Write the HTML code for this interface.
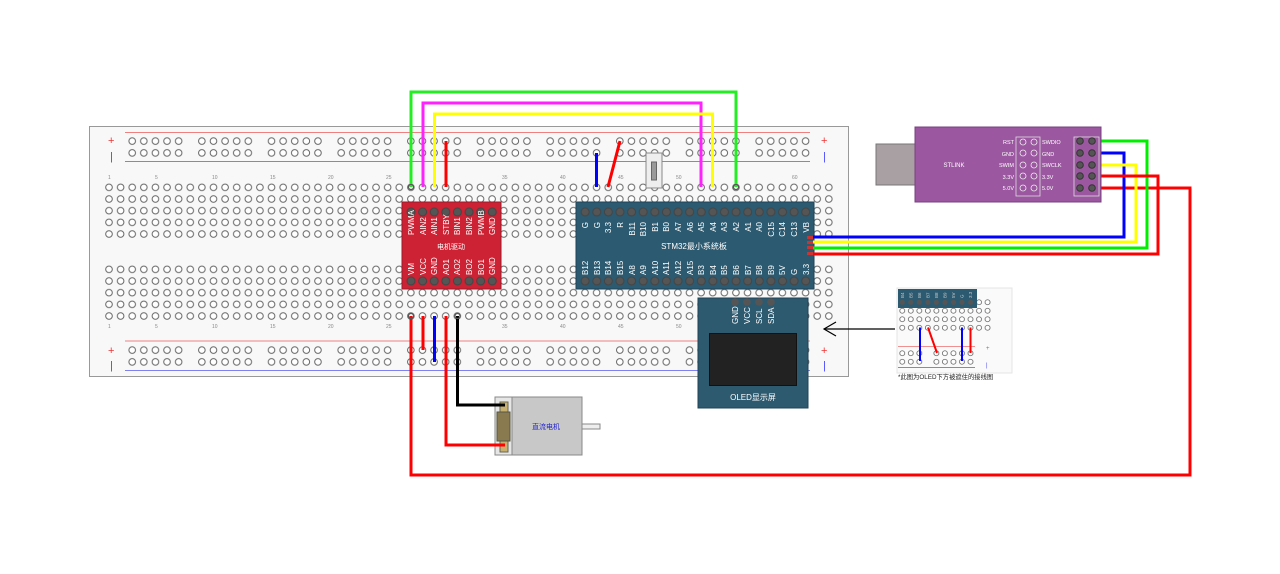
<!DOCTYPE html>
<html><head><meta charset="utf-8"><style>
html,body{margin:0;padding:0;background:#fff;width:1280px;height:574px;overflow:hidden}
svg{display:block}
text{font-family:"Liberation Sans","Noto Sans CJK SC",sans-serif}
</style></head><body>
<svg width="1280" height="574" viewBox="0 0 1280 574" xmlns="http://www.w3.org/2000/svg">
<defs>
<pattern id="hole" patternUnits="userSpaceOnUse" x="103.2" y="181.5" width="11.61" height="11.67">
<circle cx="5.8" cy="5.83" r="3.3" fill="#fff" stroke="#666" stroke-width="1"/></pattern>
<pattern id="hole2" patternUnits="userSpaceOnUse" x="103.2" y="263.5" width="11.61" height="11.67">
<circle cx="5.8" cy="5.83" r="3.3" fill="#fff" stroke="#666" stroke-width="1"/></pattern>
<pattern id="rail" patternUnits="userSpaceOnUse" x="126.4" y="135.2" width="69.66" height="11.8">
<g fill="#fff" stroke="#666" stroke-width="1"><circle cx="5.8" cy="5.9" r="3.3"/><circle cx="17.41" cy="5.9" r="3.3"/><circle cx="29.02" cy="5.9" r="3.3"/><circle cx="40.63" cy="5.9" r="3.3"/><circle cx="52.24" cy="5.9" r="3.3"/></g></pattern>
<pattern id="rail2" patternUnits="userSpaceOnUse" x="126.4" y="344.2" width="69.66" height="11.8">
<g fill="#fff" stroke="#666" stroke-width="1"><circle cx="5.8" cy="5.9" r="3.3"/><circle cx="17.41" cy="5.9" r="3.3"/><circle cx="29.02" cy="5.9" r="3.3"/><circle cx="40.63" cy="5.9" r="3.3"/><circle cx="52.24" cy="5.9" r="3.3"/></g></pattern>
<pattern id="mini" patternUnits="userSpaceOnUse" x="898" y="298" width="8.53" height="8.5">
<circle cx="4.26" cy="4.25" r="2.5" fill="#fff" stroke="#666" stroke-width="0.8"/></pattern>
<pattern id="pinD" patternUnits="userSpaceOnUse" x="405.2" y="206.2" width="11.61" height="69">
<circle cx="5.8" cy="5.8" r="4" fill="#555" stroke="#444"/><circle cx="5.8" cy="74.8" r="4" fill="#555"/></pattern>
</defs>

<!-- breadboard -->
<rect x="89.5" y="126.5" width="759" height="250" fill="#f8f8f8" stroke="#999"/>
<line x1="125" y1="132.5" x2="810" y2="132.5" stroke="#f08080"/>
<line x1="125" y1="161.5" x2="810" y2="161.5" stroke="#8080f0"/>
<line x1="125" y1="341" x2="810" y2="341" stroke="#f08080"/>
<line x1="125" y1="370.5" x2="810" y2="370.5" stroke="#8080f0"/>
<g font-size="11" fill="#e33"><text x="108" y="144">+</text><text x="821" y="144">+</text><text x="108" y="354">+</text><text x="821" y="354">+</text></g>
<g font-size="11" fill="#44f"><text x="110" y="160">|</text><text x="823" y="160">|</text><text x="110" y="369">|</text><text x="823" y="369">|</text></g>
<rect x="103.2" y="181.5" width="731.4" height="58.35" fill="url(#hole)"/>
<rect x="103.2" y="263.5" width="731.4" height="58.35" fill="url(#hole2)"/>
<rect x="126.4" y="135.2" width="686" height="23.6" fill="url(#rail)"/>
<rect x="126.4" y="344.2" width="686" height="23.6" fill="url(#rail2)"/>
<g font-size="5" fill="#888"><text x="108" y="179">1</text><text x="155" y="179">5</text><text x="212" y="179">10</text><text x="270" y="179">15</text><text x="328" y="179">20</text><text x="386" y="179">25</text><text x="502" y="179">35</text><text x="560" y="179">40</text><text x="618" y="179">45</text><text x="676" y="179">50</text><text x="792" y="179">60</text>
<text x="108" y="328">1</text><text x="155" y="328">5</text><text x="212" y="328">10</text><text x="270" y="328">15</text><text x="328" y="328">20</text><text x="386" y="328">25</text><text x="502" y="328">35</text><text x="560" y="328">40</text><text x="618" y="328">45</text><text x="676" y="328">50</text><text x="792" y="328">60</text></g>

<!-- switch -->
<rect x="646" y="153" width="16" height="35" fill="#eee" stroke="#888"/>
<rect x="651.5" y="162" width="5" height="18" fill="#999" stroke="#666"/>

<!-- motor driver -->
<rect x="402" y="202" width="99" height="87" fill="#cc2233" stroke="#a01828"/>
<rect x="405.2" y="206.2" width="92.9" height="80" fill="url(#pinD)"/>
<g font-size="8" fill="#fff">
<g transform="translate(414,235) rotate(-90)"><text>PWMA</text></g>
<g transform="translate(426,235) rotate(-90)"><text>AIN2</text></g>
<g transform="translate(437,235) rotate(-90)"><text>AIN1</text></g>
<g transform="translate(449,235) rotate(-90)"><text>STBY</text></g>
<g transform="translate(460,235) rotate(-90)"><text>BIN1</text></g>
<g transform="translate(472,235) rotate(-90)"><text>BIN2</text></g>
<g transform="translate(484,235) rotate(-90)"><text>PWMB</text></g>
<g transform="translate(495,235) rotate(-90)"><text>GND</text></g>
<g transform="translate(414,275) rotate(-90)"><text>VM</text></g>
<g transform="translate(426,275) rotate(-90)"><text>VCC</text></g>
<g transform="translate(437,275) rotate(-90)"><text>GND</text></g>
<g transform="translate(449,275) rotate(-90)"><text>AO1</text></g>
<g transform="translate(460,275) rotate(-90)"><text>AO2</text></g>
<g transform="translate(472,275) rotate(-90)"><text>BO2</text></g>
<g transform="translate(484,275) rotate(-90)"><text>BO1</text></g>
<g transform="translate(495,275) rotate(-90)"><text>GND</text></g>
<text x="451" y="249" font-size="7" text-anchor="middle">电机驱动</text>
</g>

<!-- STM32 -->
<rect x="576" y="202" width="238" height="87" fill="#2c5a70" stroke="#1e4458"/>
<rect x="579" y="206.2" width="232" height="80" fill="url(#pinD)"/>
<g font-size="8" fill="#fff">
<g transform="translate(588,222) rotate(-90)"><text text-anchor="end">G</text></g>
<g transform="translate(600,222) rotate(-90)"><text text-anchor="end">G</text></g>
<g transform="translate(611,222) rotate(-90)"><text text-anchor="end">3.3</text></g>
<g transform="translate(623,222) rotate(-90)"><text text-anchor="end">R</text></g>
<g transform="translate(635,222) rotate(-90)"><text text-anchor="end">B11</text></g>
<g transform="translate(646,222) rotate(-90)"><text text-anchor="end">B10</text></g>
<g transform="translate(658,222) rotate(-90)"><text text-anchor="end">B1</text></g>
<g transform="translate(669,222) rotate(-90)"><text text-anchor="end">B0</text></g>
<g transform="translate(681,222) rotate(-90)"><text text-anchor="end">A7</text></g>
<g transform="translate(693,222) rotate(-90)"><text text-anchor="end">A6</text></g>
<g transform="translate(704,222) rotate(-90)"><text text-anchor="end">A5</text></g>
<g transform="translate(716,222) rotate(-90)"><text text-anchor="end">A4</text></g>
<g transform="translate(727,222) rotate(-90)"><text text-anchor="end">A3</text></g>
<g transform="translate(739,222) rotate(-90)"><text text-anchor="end">A2</text></g>
<g transform="translate(751,222) rotate(-90)"><text text-anchor="end">A1</text></g>
<g transform="translate(762,222) rotate(-90)"><text text-anchor="end">A0</text></g>
<g transform="translate(774,222) rotate(-90)"><text text-anchor="end">C15</text></g>
<g transform="translate(785,222) rotate(-90)"><text text-anchor="end">C14</text></g>
<g transform="translate(797,222) rotate(-90)"><text text-anchor="end">C13</text></g>
<g transform="translate(809,222) rotate(-90)"><text text-anchor="end">VB</text></g>
<g transform="translate(588,275) rotate(-90)"><text>B12</text></g>
<g transform="translate(600,275) rotate(-90)"><text>B13</text></g>
<g transform="translate(611,275) rotate(-90)"><text>B14</text></g>
<g transform="translate(623,275) rotate(-90)"><text>B15</text></g>
<g transform="translate(635,275) rotate(-90)"><text>A8</text></g>
<g transform="translate(646,275) rotate(-90)"><text>A9</text></g>
<g transform="translate(658,275) rotate(-90)"><text>A10</text></g>
<g transform="translate(669,275) rotate(-90)"><text>A11</text></g>
<g transform="translate(681,275) rotate(-90)"><text>A12</text></g>
<g transform="translate(693,275) rotate(-90)"><text>A15</text></g>
<g transform="translate(704,275) rotate(-90)"><text>B3</text></g>
<g transform="translate(716,275) rotate(-90)"><text>B4</text></g>
<g transform="translate(727,275) rotate(-90)"><text>B5</text></g>
<g transform="translate(739,275) rotate(-90)"><text>B6</text></g>
<g transform="translate(751,275) rotate(-90)"><text>B7</text></g>
<g transform="translate(762,275) rotate(-90)"><text>B8</text></g>
<g transform="translate(774,275) rotate(-90)"><text>B9</text></g>
<g transform="translate(785,275) rotate(-90)"><text>5V</text></g>
<g transform="translate(797,275) rotate(-90)"><text>G</text></g>
<g transform="translate(809,275) rotate(-90)"><text>3.3</text></g>
<text x="694" y="249" font-size="8" text-anchor="middle">STM32最小系统板</text>
</g>
<g fill="#c33"><rect x="807" y="236" width="6" height="3"/><rect x="807" y="241" width="6" height="3"/><rect x="807" y="246" width="6" height="3"/><rect x="807" y="252" width="6" height="3"/></g>

<!-- OLED -->
<rect x="698" y="298" width="110" height="110" fill="#2e5a70" stroke="#1e4458"/>
<g fill="#555"><circle cx="735" cy="302" r="3.8"/><circle cx="747" cy="302" r="3.8"/><circle cx="759" cy="302" r="3.8"/><circle cx="771" cy="302" r="3.8"/></g>
<g font-size="8" fill="#fff">
<g transform="translate(738,324) rotate(-90)"><text>GND</text></g>
<g transform="translate(750,324) rotate(-90)"><text>VCC</text></g>
<g transform="translate(762,324) rotate(-90)"><text>SCL</text></g>
<g transform="translate(774,324) rotate(-90)"><text>SDA</text></g>
<text x="753" y="400" font-size="8" text-anchor="middle">OLED显示屏</text></g>
<rect x="709.5" y="333.5" width="87" height="52" fill="#222" stroke="#111"/>

<!-- motor -->
<rect x="495" y="397" width="87" height="58" fill="#e6e6e6" stroke="#888"/>
<rect x="512" y="397" width="70" height="58" fill="#c8c8c8" stroke="#888"/>
<rect x="582" y="424" width="18" height="5" fill="#eee" stroke="#888"/>
<rect x="500" y="402" width="8" height="50" fill="#c8b070" stroke="#665"/>
<rect x="497" y="412" width="13" height="29" fill="#8a7a50" stroke="#554"/>
<text x="546" y="429" font-size="7" fill="#22c" text-anchor="middle">直流电机</text>

<!-- wires -->
<g fill="none" stroke-width="3">
<polyline points="411,187 411,92 736,92 736,187" stroke="#22ee22"/>
<polyline points="423,187 423,103 701,103 701,187" stroke="#ff22ff"/>
<polyline points="434.5,187 434.5,114 712.5,114 712.5,187" stroke="#ffff00"/>
<line x1="446" y1="141" x2="446" y2="187" stroke="#f00"/>
<line x1="596.5" y1="153" x2="596.5" y2="187" stroke="#00f"/>
<line x1="620" y1="141" x2="608" y2="187" stroke="#f00"/>
<polyline points="411,316 411,475 1190,475 1190,188 1092,188" stroke="#f00"/>
<line x1="423" y1="316" x2="423" y2="350" stroke="#f00"/>
<line x1="434.5" y1="316" x2="434.5" y2="362" stroke="#00f"/>
<polyline points="446,316 446,445 505,445" stroke="#f00"/>
<polyline points="457.5,316 457.5,405 505,405" stroke="#000"/>
<polyline points="813,237 1124,237 1124,153 1092,153" stroke="#00f"/>
<polyline points="813,242 1136,242 1136,165 1092,165" stroke="#ff0"/>
<polyline points="813,248 1147,248 1147,141 1092,141" stroke="#0e0"/>
<polyline points="813,254 1158,254 1158,176 1092,176" stroke="#f00"/>
</g>
<g fill="none" stroke="#555" stroke-width="1.2"><circle cx="411" cy="187" r="2.5"/><circle cx="736" cy="187" r="2.5"/><circle cx="411" cy="316" r="2.5"/><circle cx="457.5" cy="316" r="2.5"/></g>

<!-- STLINK -->
<rect x="876" y="144" width="41" height="41" fill="#a9a0a3" stroke="#777"/>
<rect x="915" y="127" width="186" height="75" fill="#9b58a0" stroke="#7a4080"/>
<text x="954" y="167" font-size="6" fill="#fff" text-anchor="middle">STLINK</text>
<rect x="1016" y="137" width="24" height="59" fill="none" stroke="#ddd" stroke-width="0.8"/>
<rect x="1074" y="137" width="25" height="59" fill="none" stroke="#ddd" stroke-width="0.8"/>
<g fill="none" stroke="#eee" stroke-width="0.8">
<circle cx="1023" cy="142" r="3"/><circle cx="1034" cy="142" r="3"/><circle cx="1023" cy="153" r="3"/><circle cx="1034" cy="153" r="3"/><circle cx="1023" cy="165" r="3"/><circle cx="1034" cy="165" r="3"/><circle cx="1023" cy="176" r="3"/><circle cx="1034" cy="176" r="3"/><circle cx="1023" cy="188" r="3"/><circle cx="1034" cy="188" r="3"/></g>
<g fill="#555" stroke="#333"><circle cx="1080" cy="141" r="3.3"/><circle cx="1080" cy="153" r="3.3"/><circle cx="1080" cy="165" r="3.3"/><circle cx="1080" cy="176" r="3.3"/><circle cx="1080" cy="188" r="3.3"/>
<circle cx="1092" cy="141" r="3.3"/><circle cx="1092" cy="153" r="3.3"/><circle cx="1092" cy="165" r="3.3"/><circle cx="1092" cy="176" r="3.3"/><circle cx="1092" cy="188" r="3.3"/></g>
<g font-size="5.5" fill="#fff"><g text-anchor="end"><text x="1014" y="144">RST</text><text x="1014" y="156">GND</text><text x="1014" y="167">SWIM</text><text x="1014" y="179">3.3V</text><text x="1014" y="190">5.0V</text></g>
<text x="1042" y="144">SWDIO</text><text x="1042" y="156">GND</text><text x="1042" y="167">SWCLK</text><text x="1042" y="179">3.3V</text><text x="1042" y="190">5.0V</text></g>

<!-- arrow -->
<line x1="895" y1="329" x2="824" y2="329" stroke="#000" stroke-width="1.2"/>
<polyline points="836,322 824,329 836,336" fill="none" stroke="#000" stroke-width="1.2"/>

<!-- inset -->
<rect x="897" y="288" width="115" height="85" fill="#fafafa" stroke="#e4e4e4"/>
<rect x="898" y="298" width="94" height="34" fill="url(#mini)"/>
<g fill="url(#mini)"><rect x="898" y="349" width="26" height="17"/><rect x="932" y="349" width="43" height="17"/></g>
<line x1="898" y1="346.5" x2="975" y2="346.5" stroke="#f09090"/>
<line x1="898" y1="367.5" x2="975" y2="367.5" stroke="#8080f0"/>
<rect x="898" y="289" width="79" height="19" fill="#2c5a70"/>
<g fill="#555"><circle cx="902.3" cy="302.3" r="2.6"/><circle cx="910.8" cy="302.3" r="2.6"/><circle cx="919.3" cy="302.3" r="2.6"/><circle cx="927.9" cy="302.3" r="2.6"/><circle cx="936.4" cy="302.3" r="2.6"/><circle cx="945" cy="302.3" r="2.6"/><circle cx="953.5" cy="302.3" r="2.6"/><circle cx="962" cy="302.3" r="2.6"/><circle cx="970.6" cy="302.3" r="2.6"/></g>
<g font-size="4.5" fill="#ccc"><g transform="translate(904,298) rotate(-90)"><text>B4</text></g><g transform="translate(912.5,298) rotate(-90)"><text>B5</text></g><g transform="translate(921,298) rotate(-90)"><text>B6</text></g><g transform="translate(929.5,298) rotate(-90)"><text>B7</text></g><g transform="translate(938,298) rotate(-90)"><text>B8</text></g><g transform="translate(946.5,298) rotate(-90)"><text>B9</text></g><g transform="translate(955,298) rotate(-90)"><text>5V</text></g><g transform="translate(963.5,298) rotate(-90)"><text>G</text></g><g transform="translate(972,298) rotate(-90)"><text>3.3</text></g></g>
<text x="986" y="350" font-size="6" fill="#e44">+</text><text x="986" y="367" font-size="6" fill="#44e">|</text>
<g stroke-width="2" fill="none"><line x1="920" y1="327.5" x2="920" y2="361" stroke="#00f"/><line x1="928" y1="327.5" x2="937" y2="353" stroke="#f00"/><line x1="962" y1="327.5" x2="962" y2="361" stroke="#00f"/><line x1="970.5" y1="327.5" x2="970.5" y2="353" stroke="#f00"/></g>
<text x="898" y="379" font-size="6.3" fill="#222">*此图为OLED下方被遮住的接线图</text>
</svg>
</body></html>
